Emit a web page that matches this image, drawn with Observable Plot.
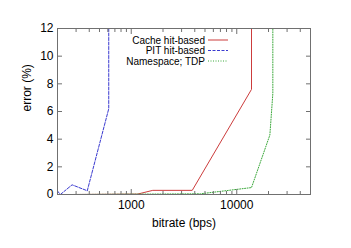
<!DOCTYPE html>
<html><head><meta charset="utf-8">
<script src="https://cdn.jsdelivr.net/npm/d3@7"></script>
<script src="https://cdn.jsdelivr.net/npm/@observablehq/plot@0.6"></script>
<style>
body{margin:0;background:#fff}
svg{font-family:"Liberation Sans",Arial,Helvetica,sans-serif}
</style>
</head><body><div id="chart"></div>
<script>
const seriesNames = ["Cache hit-based", "PIT hit-based", "Namespace; TDP"];
const cacheBitrate = [277, 1150, 1600, 3785, 13800, 13800];
const cacheError   = [0, 0.03, 0.3, 0.3, 7.6, 13];
const pitBitrate   = [200, 213, 275, 383, 612, 612];
const pitError     = [0.25, 0, 0.7, 0.27, 6.2, 13];
const tdpBitrate   = [277, 4530, 13800, 20600, 21980, 21980];
const tdpError     = [0, 0.05, 0.5, 4.3, 7.3, 13];
const xMajorTicks = [1000, 10000];
const xMinorTicks = [200, 300, 400, 500, 600, 700, 800, 900, 2000, 3000, 4000, 5000, 6000, 7000, 8000, 9000, 20000, 30000, 40000];
const yTicks = [0, 2, 4, 6, 8, 10, 12];

const colors = ["#cc3c3c", "#3a3ad0", "#3aa83a"];
const dashes = [null, "3,1.5", "1,1.5"];

const toRows = (name, xs, ys) => xs.map((x, i) => ({series: name, bitrate: x, error: ys[i]}));
const seriesData = [
  toRows(seriesNames[0], cacheBitrate, cacheError),
  toRows(seriesNames[1], pitBitrate, pitError),
  toRows(seriesNames[2], tdpBitrate, tdpError)
];

const axisColor = "#707070";

function legendMark(index, scales, values, dims) {
  const g = d3.create("svg:g");
  const xr = dims.width - dims.marginRight;
  seriesNames.forEach((name, i) => {
    const y = dims.marginTop + 12 + i * 10.5;
    g.append("text")
      .attr("x", xr - 105).attr("y", y).attr("dy", "0.35em")
      .attr("text-anchor", "end").attr("font-size", 10).attr("fill", "#000")
      .text(name);
    const line = g.append("line")
      .attr("x1", xr - 102).attr("x2", xr - 82)
      .attr("y1", y).attr("y2", y)
      .attr("stroke", colors[i]).attr("stroke-width", 1);
    if (dashes[i]) line.attr("stroke-dasharray", dashes[i]);
  });
  return g.node();
}

const chart = Plot.plot({
  width: 351,
  height: 248,
  marginLeft: 57,
  marginRight: 41,
  marginTop: 28,
  marginBottom: 54,
  style: {fontFamily: "Liberation Sans, Arial, sans-serif", background: "#fff"},
  x: {type: "log", domain: [200, 50000]},
  y: {domain: [0, 12]},
  marks: [
    ...seriesData.map((rows, i) => Plot.line(rows, {
      x: "bitrate", y: "error", stroke: colors[i], strokeWidth: 1,
      strokeDasharray: dashes[i] || undefined, clip: true
    })),
    Plot.frame({stroke: axisColor}),
    Plot.axisX(xMinorTicks, {anchor: "bottom", tickSize: -3, tickFormat: () => "", stroke: axisColor, label: null}),
    Plot.axisX(xMinorTicks, {anchor: "top", tickSize: -3, tickFormat: () => "", stroke: axisColor, label: null}),
    Plot.axisX(xMajorTicks, {anchor: "bottom", tickSize: -5, tickFormat: () => "", stroke: axisColor, label: null}),
    Plot.axisX(xMajorTicks, {anchor: "top", tickSize: -5, tickFormat: () => "", stroke: axisColor, label: null}),
    Plot.axisX(xMajorTicks, {anchor: "bottom", tickSize: 0, tickPadding: 6, tickFormat: d => String(d), fontSize: 12, fill: "#000", label: null}),
    Plot.axisY(yTicks, {anchor: "left", tickSize: -5, tickFormat: () => "", stroke: axisColor, label: null}),
    Plot.axisY(yTicks, {anchor: "right", tickSize: -5, tickFormat: () => "", stroke: axisColor, label: null}),
    Plot.axisY(yTicks, {anchor: "left", tickSize: 0, tickPadding: 4, fontSize: 12, fill: "#000", label: null}),
    Plot.text(["bitrate (bps)"], {frameAnchor: "bottom", dy: 32, text: d => d, fontSize: 12, fill: "#000"}),
    Plot.text(["error (%)"], {frameAnchor: "left", dx: -30, rotate: -90, text: d => d, fontSize: 12, fill: "#000"}),
    legendMark
  ]
});
document.getElementById("chart").appendChild(chart);
</script>
</body></html>
